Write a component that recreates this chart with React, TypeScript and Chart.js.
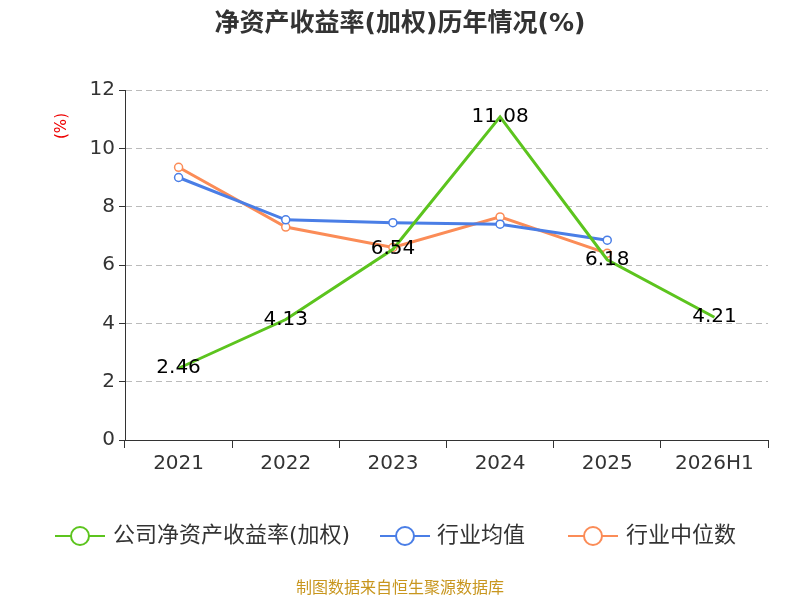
import React, { useEffect, useRef } from "react";
import { Chart, registerables } from "chart.js";
Chart.register(...registerables);

const categories = ["2021", "2022", "2023", "2024", "2025", "2026H1"];
const companyValues = [2.46, 4.13, 6.54, 11.08, 6.18, 4.21];
const industryAvg = [9.0, 7.55, 7.45, 7.4, 6.85, null];
const industryMedian = [9.35, 7.3, 6.6, 7.65, 6.4, null];
const seriesNames = ["公司净资产收益率(加权)", "行业均值", "行业中位数"];
const colors = ["#5cc41e", "#4a7ee6", "#fb8c57"];
const FONT = "'DejaVu Sans', 'Noto Sans CJK SC', sans-serif";

const extras = {
  id: "extras",
  afterDraw(chart: any) {
    const ctx = chart.ctx;
    ctx.save();
    ctx.fillStyle = "#333";
    ctx.font = `bold 25px ${FONT}`;
    ctx.textAlign = "center";
    ctx.textBaseline = "middle";
    ctx.fillText("净资产收益率(加权)历年情况(%)", 400, 24);
    ctx.save();
    ctx.translate(62, 126);
    ctx.rotate(-Math.PI / 2);
    ctx.fillStyle = "#e00";
    ctx.font = `15px ${FONT}`;
    ctx.fillText("(%)", 0, 0);
    ctx.restore();
    const meta = chart.getDatasetMeta(0);
    ctx.fillStyle = "#000";
    ctx.font = `20px ${FONT}`;
    meta.data.forEach((p: any, i: number) => {
      ctx.fillText(companyValues[i].toFixed(2), p.x, p.y);
    });
    const items = [
      { x: 55, tx: 113 },
      { x: 380, tx: 437 },
      { x: 568, tx: 626 },
    ];
    items.forEach((it, i) => {
      const y = 536;
      ctx.strokeStyle = colors[i];
      ctx.lineWidth = 2;
      ctx.beginPath();
      ctx.moveTo(it.x, y);
      ctx.lineTo(it.x + 50, y);
      ctx.stroke();
      ctx.beginPath();
      ctx.arc(it.x + 25, y, 9, 0, Math.PI * 2);
      ctx.fillStyle = "#fff";
      ctx.fill();
      ctx.stroke();
      ctx.fillStyle = "#333";
      ctx.textAlign = "left";
      ctx.font = `22px ${FONT}`;
      ctx.fillText(seriesNames[i], it.tx, y);
    });
    ctx.textAlign = "center";
    ctx.fillStyle = "#c8961e";
    ctx.font = `16px ${FONT}`;
    ctx.fillText("制图数据来自恒生聚源数据库", 400, 589);
    ctx.restore();
  },
};

export default function App() {
  const ref = useRef<HTMLCanvasElement>(null);
  useEffect(() => {
    const chart = new Chart(ref.current!, {
      type: "line",
      data: {
        labels: categories,
        datasets: [
          { label: seriesNames[0], data: companyValues, borderColor: colors[0], backgroundColor: "#fff", borderWidth: 3, pointRadius: 0 },
          { label: seriesNames[1], data: industryAvg as any, borderColor: colors[1], backgroundColor: "#fff", borderWidth: 3, pointRadius: 4, pointBorderWidth: 1.5 },
          { label: seriesNames[2], data: industryMedian as any, borderColor: colors[2], backgroundColor: "#fff", borderWidth: 3, pointRadius: 4, pointBorderWidth: 1.5 },
        ],
      },
      options: {
        animation: false,
        responsive: false,
        layout: { padding: { left: 0, right: 32, top: 90, bottom: 0 } },
        plugins: { legend: { display: false }, tooltip: { enabled: false } },
        scales: {
          x: {
            offset: true,
            afterFit: (s: any) => { s.height = 160; },
            grid: { display: true, drawOnChartArea: false, offset: true, tickLength: 8, color: "#333" },
            border: { color: "#333" },
            ticks: { color: "#333", font: { size: 20, family: FONT }, padding: 4 },
          },
          y: {
            min: 0, max: 12,
            afterFit: (s: any) => { s.width = 125; },
            ticks: { stepSize: 2, color: "#333", font: { size: 20, family: FONT }, padding: 4 },
            grid: {
              color: (c: any) => (c.tick && c.tick.value === 0 ? "rgba(0,0,0,0)" : "#bbb"),
              tickColor: "#333", tickLength: 6,
            },
            border: { color: "#333", dash: [6, 4] },
          },
        },
      },
      plugins: [extras],
    });
    return () => chart.destroy();
  }, []);
  return (
    <div style={{ position: "fixed", left: 0, top: 0 }}>
      <canvas ref={ref} width={800} height={600} />
    </div>
  );
}
